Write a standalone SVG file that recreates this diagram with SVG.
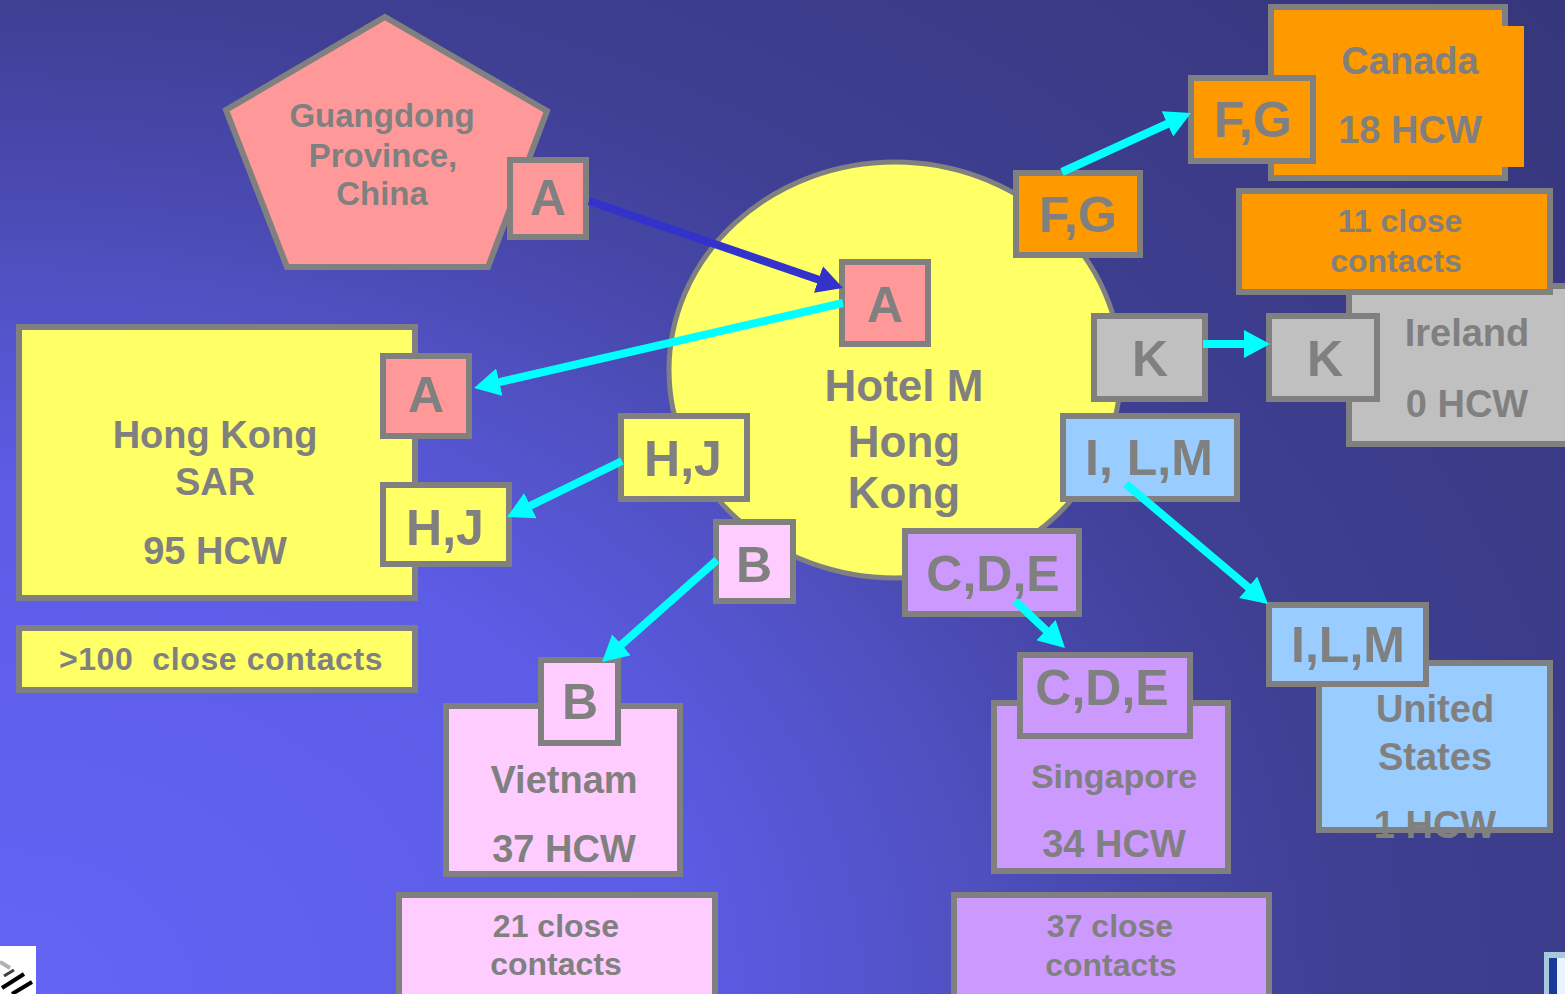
<svg xmlns="http://www.w3.org/2000/svg" width="1565" height="994" viewBox="0 0 1565 994">
<defs>
<radialGradient id="bg" gradientUnits="userSpaceOnUse" cx="0" cy="994" r="1541" gradientTransform="translate(0 994) scale(1.35 1) translate(0 -994)">
<stop offset="0" stop-color="#6464f6"/>
<stop offset="0.33" stop-color="#5c5ce6"/>
<stop offset="0.47" stop-color="#5050c0"/>
<stop offset="0.52" stop-color="#4a4ab2"/>
<stop offset="0.645" stop-color="#3f3f94"/>
<stop offset="0.8" stop-color="#3b3b88"/>
<stop offset="1" stop-color="#36367a"/>
</radialGradient>
<marker id="hc" markerUnits="userSpaceOnUse" viewBox="0 -14 26 28" markerWidth="26" markerHeight="28" refX="2" refY="0" orient="auto">
<path d="M0,-14 L26,0 L0,14 z" fill="#00ffff"/>
</marker>
<marker id="hb" markerUnits="userSpaceOnUse" viewBox="0 -14 26 28" markerWidth="26" markerHeight="28" refX="2" refY="0" orient="auto">
<path d="M0,-14 L26,0 L0,14 z" fill="#3333cc"/>
</marker>
</defs>
<style>
.b{stroke:#808080;stroke-width:6}
.pk{fill:#ff9999}.yl{fill:#ffff66}.or{fill:#ff9900}.gr{fill:#c0c0c0}.lb{fill:#99ccff}.vi{fill:#cc99ff}.lp{fill:#ffccff}
text{font-family:"Liberation Sans",Arial,sans-serif;font-weight:bold;fill:#808080;text-anchor:middle}
.lab{font-size:50px}
.big{font-size:44px}
.cty{font-size:38px}
.cc{font-size:32px}
.gd{font-size:33px}
.ac{stroke:#00ffff;stroke-width:8;fill:none;marker-end:url(#hc)}
.ab{stroke:#3333cc;stroke-width:8;fill:none;marker-end:url(#hb)}
</style>
<rect width="1565" height="994" fill="url(#bg)"/>

<g id="guangdong">
<polygon class="b pk" points="385,17 547,111 488,267 287,267 226,110"/>
<text class="gd" x="382" y="127">Guangdong</text>
<text class="gd" x="383" y="167">Province,</text>
<text class="gd" x="382" y="205">China</text>
</g>
<g id="guangdong-a">
<rect class="b pk" x="510" y="160" width="76" height="77"/>
<text class="lab" x="548" y="215">A</text>
</g>

<g id="hotel-m">
<ellipse class="b yl" cx="895" cy="370" rx="226" ry="208" style="stroke-width:5"/>
<text class="big" x="904" y="401">Hotel M</text>
<text class="big" x="904" y="457">Hong</text>
<text class="big" x="904" y="508">Kong</text>
</g>
<g id="hotel-a">
<rect class="b pk" x="842" y="262" width="86" height="82"/>
<text class="lab" x="885" y="322">A</text>
</g>
<g id="hotel-fg">
<rect class="b or" x="1016" y="173" width="124" height="82"/>
<text class="lab" x="1078" y="232">F,G</text>
</g>
<g id="hotel-k">
<rect class="b gr" x="1094" y="316" width="111" height="83"/>
<text class="lab" x="1150" y="376">K</text>
</g>
<g id="hotel-ilm">
<rect class="b lb" x="1063" y="416" width="174" height="83"/>
<text class="lab" x="1149" y="475">I, L,M</text>
</g>
<g id="hotel-cde">
<rect class="b vi" x="905" y="531" width="174" height="83"/>
<text class="lab" x="993" y="591">C,D,E</text>
</g>
<g id="hotel-b">
<rect class="b lp" x="716" y="522" width="77" height="79"/>
<text class="lab" x="754" y="582">B</text>
</g>
<g id="hotel-hj">
<rect class="b yl" x="621" y="416" width="126" height="83"/>
<text class="lab" x="683" y="476">H,J</text>
</g>

<g id="hongkong-sar">
<rect class="b yl" x="19" y="327" width="396" height="271"/>
<text class="cty" x="215" y="448">Hong Kong</text>
<text class="cty" x="215" y="495">SAR</text>
<text class="cty" x="215" y="564">95 HCW</text>
</g>
<g id="hongkong-a">
<rect class="b pk" x="383" y="356" width="86" height="80"/>
<text class="lab" x="426" y="412">A</text>
</g>
<g id="hongkong-hj">
<rect class="b yl" x="383" y="485" width="126" height="79"/>
<text class="lab" x="445" y="545">H,J</text>
</g>
<g id="hongkong-contacts">
<rect class="b yl" x="19" y="628" width="396" height="62"/>
<text class="cc" x="221" y="670" style="letter-spacing:0.6px" xml:space="preserve">&gt;100  close contacts</text>
</g>

<g id="vietnam">
<rect class="b lp" x="446" y="706" width="234" height="168"/>
<text class="cty" x="564" y="793">Vietnam</text>
<text class="cty" x="564" y="862">37 HCW</text>
</g>
<g id="vietnam-b">
<rect class="b lp" x="541" y="660" width="77" height="83"/>
<text class="lab" x="580" y="719">B</text>
</g>
<g id="vietnam-contacts">
<rect class="b lp" x="399" y="895" width="316" height="120"/>
<text class="cc" x="556" y="937">21 close</text>
<text class="cc" x="556" y="975">contacts</text>
</g>

<g id="singapore">
<rect class="b vi" x="994" y="703" width="234" height="168"/>
<text class="cty" x="1114" y="788" style="font-size:34px">Singapore</text>
<text class="cty" x="1114" y="857">34 HCW</text>
</g>
<g id="singapore-cde">
<rect class="b vi" x="1020" y="655" width="170" height="81"/>
<text class="lab" x="1102" y="705">C,D,E</text>
</g>
<g id="singapore-contacts">
<rect class="b vi" x="954" y="895" width="315" height="120"/>
<text class="cc" x="1110" y="937">37 close</text>
<text class="cc" x="1111" y="976">contacts</text>
</g>

<g id="united-states">
<rect class="b lb" x="1319" y="663" width="231" height="167"/>
<text class="cty" x="1435" y="722">United</text>
<text class="cty" x="1435" y="770">States</text>
<text class="cty" x="1435" y="838">1 HCW</text>
</g>
<g id="us-ilm">
<rect class="b lb" x="1269" y="605" width="157" height="79"/>
<text class="lab" x="1348" y="662">I,L,M</text>
</g>

<g id="ireland">
<rect class="b gr" x="1349" y="286" width="260" height="158"/>
<text class="cty" x="1467" y="346">Ireland</text>
<text class="cty" x="1467" y="417">0 HCW</text>
</g>
<g id="ireland-k">
<rect class="b gr" x="1269" y="316" width="108" height="83"/>
<text class="lab" x="1325" y="376">K</text>
</g>

<g id="canada">
<rect class="b or" x="1271" y="7" width="234" height="171"/>
<rect class="or" x="1500" y="26" width="24" height="141"/>
<text class="cty" x="1410" y="74">Canada</text>
<text class="cty" x="1410" y="143">18 HCW</text>
</g>
<g id="canada-fg">
<rect class="b or" x="1191" y="78" width="122" height="83"/>
<text class="lab" x="1253" y="137">F,G</text>
</g>
<g id="canada-contacts">
<rect class="b or" x="1239" y="191" width="311" height="101"/>
<text class="cc" x="1400" y="232">11 close</text>
<text class="cc" x="1396" y="272">contacts</text>
</g>

<g id="connectors">
<path class="ab" d="M589,201 L820.3,280.2"/>
<path class="ac" d="M843,303 L497.4,382.6"/>
<path class="ac" d="M622,461 L528.6,506.5"/>
<path class="ac" d="M717,560 L620,646.1"/>
<path class="ac" d="M1015,601 L1047.5,631.6"/>
<path class="ac" d="M1126,484 L1249.7,588.5"/>
<path class="ac" d="M1203,344 L1246,344"/>
<path class="ac" d="M1062,172 L1169.2,123"/>
</g>

<g id="logo-left">
<rect x="0" y="946" width="36" height="48" fill="#ffffff"/>
<path d="M0,962 L10,968" stroke="#b0b0b0" stroke-width="4"/>
<path d="M2,988 L24,974" stroke="#000000" stroke-width="4"/>
<path d="M12,994 L32,982" stroke="#000000" stroke-width="4"/>
<path d="M4,976 L14,970" stroke="#404040" stroke-width="3"/>
</g>
<g id="logo-right">
<rect x="1544" y="952" width="21" height="42" fill="#a8c8e0"/>
<rect x="1549" y="958" width="8" height="36" fill="#1a3a9a"/>
<rect x="1557" y="958" width="8" height="36" fill="#e8f4ff"/>
</g>
</svg>
